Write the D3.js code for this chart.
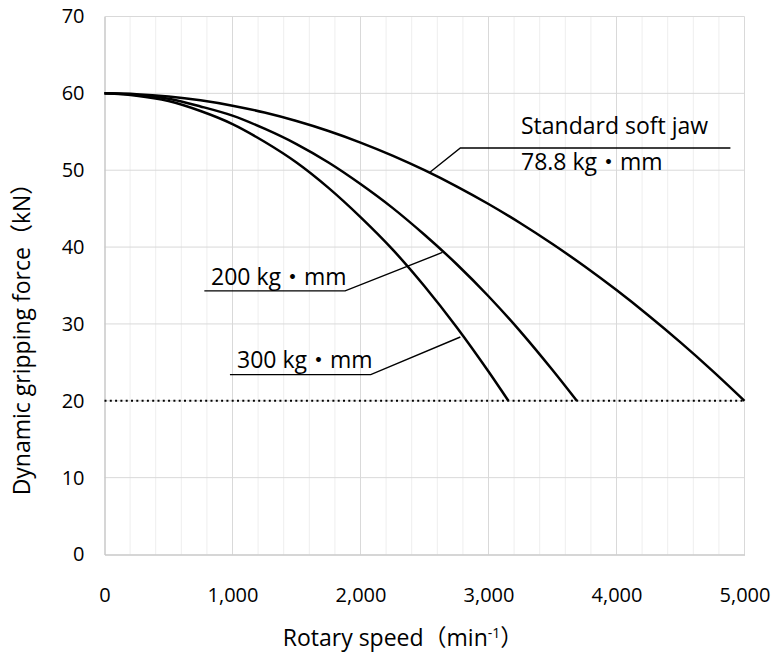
<!DOCTYPE html>
<html>
<head>
<meta charset="utf-8">
<script src="https://cdn.jsdelivr.net/npm/d3@7"></script>
<style>
  html, body { margin: 0; padding: 0; background: #fff; }
  svg text { font-family: "Open Sans", "Noto Sans CJK JP", sans-serif; fill: #000; }
</style>
</head>
<body>
<div id="chart"></div>
<script>
// --------------------------------------------
// DONNEES
// --------------------------------------------
const speedStd = [0, 250, 500, 750, 1000, 1250, 1500, 1750, 2000, 2250, 2500, 2750, 3000, 3250, 3500, 3750, 4000, 4250, 4500, 4750, 5000];
const forceStd = [60, 59.9, 59.6, 59.1, 58.4, 57.5, 56.4, 55.1, 53.6, 51.9, 50.0, 47.9, 45.6, 43.1, 40.4, 37.5, 34.4, 31.1, 27.6, 23.9, 20.0];

const speed200 = [0, 250, 500, 750, 1000, 1250, 1500, 1750, 2000, 2250, 2500, 2750, 3000, 3250, 3500, 3690];
const force200 = [60, 59.8, 59.3, 58.3, 57.1, 55.4, 53.4, 51.0, 48.2, 45.1, 41.6, 37.8, 33.6, 29.0, 24.0, 20.0];

const speed300 = [0, 250, 500, 750, 1000, 1250, 1500, 1750, 2000, 2250, 2500, 2750, 3000, 3155];
const force300 = [60, 59.7, 59.0, 57.7, 56.0, 53.7, 51.0, 47.7, 43.9, 39.7, 34.9, 29.6, 23.8, 20.0];

const limitForce = 20;
const xTicks = [0, 1000, 2000, 3000, 4000, 5000];
const yTicks = [0, 10, 20, 30, 40, 50, 60, 70];

// --------------------------------------------
// MISE EN PAGE
// --------------------------------------------
const width = 777;
const height = 662;
const margin = { left: 104.5, right: 32.5, top: 16.5, bottom: 107.5 };

const x = d3.scaleLinear().domain([0, 5000]).range([margin.left, width - margin.right]);
const y = d3.scaleLinear().domain([0, 70]).range([height - margin.bottom, margin.top]);

const svg = d3.select("#chart").append("svg")
  .attr("width", width)
  .attr("height", height);

// grille secondaire (tous les 200)
svg.append("g")
  .selectAll("line")
  .data(d3.range(200, 5000, 200).filter((d) => d % 1000 !== 0))
  .join("line")
  .attr("x1", (d) => x(d)).attr("x2", (d) => x(d))
  .attr("y1", y(0)).attr("y2", y(70))
  .attr("stroke", "#eeeeee")
  .attr("stroke-width", 1);

// grille principale
svg.append("g")
  .selectAll("line")
  .data(xTicks.slice(1))
  .join("line")
  .attr("x1", (d) => x(d)).attr("x2", (d) => x(d))
  .attr("y1", y(0)).attr("y2", y(70))
  .attr("stroke", "#d9d9d9")
  .attr("stroke-width", 1);

svg.append("g")
  .selectAll("line")
  .data(yTicks.slice(1))
  .join("line")
  .attr("x1", x(0)).attr("x2", x(5000))
  .attr("y1", (d) => y(d)).attr("y2", (d) => y(d))
  .attr("stroke", "#d9d9d9")
  .attr("stroke-width", 1);

// axes (sans traits de graduation)
const xAxis = svg.append("g")
  .attr("transform", `translate(0,${y(0)})`)
  .call(d3.axisBottom(x).tickValues(xTicks).tickFormat(d3.format(",")).tickSize(0).tickPadding(33));
xAxis.select(".domain").attr("stroke", "#c8c8c8").attr("stroke-width", 1.5);
xAxis.selectAll("text").style("font-size", "20px");

const yAxis = svg.append("g")
  .attr("transform", `translate(${x(0)},0)`)
  .call(d3.axisLeft(y).tickValues(yTicks).tickSize(0).tickPadding(20));
yAxis.select(".domain").attr("stroke", "#c8c8c8").attr("stroke-width", 1.5);
yAxis.selectAll("text").style("font-size", "20px");

// --------------------------------------------
// COURBES
// --------------------------------------------
const line = d3.line()
  .x((d) => x(d[0]))
  .y((d) => y(d[1]))
  .curve(d3.curveMonotoneX);

// limite à 20 kN
svg.append("line")
  .attr("x1", x(0)).attr("x2", x(5000))
  .attr("y1", y(limitForce)).attr("y2", y(limitForce))
  .attr("stroke", "#000")
  .attr("stroke-width", 2)
  .attr("stroke-dasharray", "2,3.3");

const series = [
  d3.zip(speedStd, forceStd),
  d3.zip(speed200, force200),
  d3.zip(speed300, force300),
];

svg.append("g")
  .selectAll("path")
  .data(series)
  .join("path")
  .attr("d", line)
  .attr("fill", "none")
  .attr("stroke", "#000")
  .attr("stroke-width", 2.5);

// --------------------------------------------
// ETIQUETTES
// --------------------------------------------
const leader = (pts) =>
  svg.append("polyline")
    .attr("points", pts.map((p) => x(p[0]) + "," + y(p[1])).join(" "))
    .attr("fill", "none")
    .attr("stroke", "#000")
    .attr("stroke-width", 1.4);

leader([[2540, 49.7], [2780, 52.9], [4890, 52.9]]);
leader([[780, 34.3], [1880, 34.3], [2640, 39.3]]);
leader([[980, 23.4], [2080, 23.4], [2780, 28.3]]);

const label = (px, py, txt) =>
  svg.append("text")
    .attr("x", px)
    .attr("y", py)
    .style("font-size", "23px")
    .text(txt);

label(521, 134, "Standard soft jaw");
label(521, 170, "78.8 kg・mm");
label(211, 285, "200 kg・mm");
label(237, 368, "300 kg・mm");

// titres des axes
svg.append("text")
  .attr("transform", `translate(30,${(y(0) + y(70)) / 2 + 48}) rotate(-90)`)
  .attr("text-anchor", "middle")
  .style("font-size", "23px")
  .text("Dynamic gripping force（kN）");

const xTitle = svg.append("text")
  .attr("x", 403)
  .attr("y", 646)
  .attr("text-anchor", "middle")
  .style("font-size", "23px");
xTitle.append("tspan").text("Rotary speed（min");
xTitle.append("tspan").attr("dy", -8).style("font-size", "14px").text("-1");
xTitle.append("tspan").attr("dy", 8).text("）");
</script>
</body>
</html>
